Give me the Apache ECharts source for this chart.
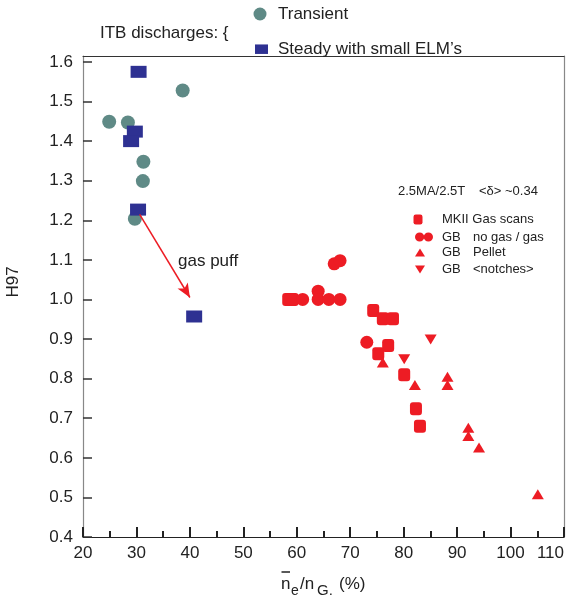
<!DOCTYPE html>
<html>
<head>
<meta charset="utf-8">
<script src="https://cdn.jsdelivr.net/npm/echarts@6/dist/echarts.min.js"></script>
<style>
  html, body { margin: 0; padding: 0; background: #fff; }
  #chart { width: 569px; height: 603px; }
</style>
</head>
<body>
<div id="chart"></div>
<script>
// ITB discharges (left cluster)
const transient = [[24.9, 1.449], [28.4, 1.447], [38.65, 1.528], [31.3, 1.348], [31.2, 1.299], [29.7, 1.204]];
const steadySmallELMs = [[30.4, 1.575], [29.7, 1.424], [29.0, 1.40], [30.3, 1.227], [40.8, 0.957]];

// 2.5MA/2.5T reference discharges (right cluster)
const mkiiGasScans = [[58.4, 1.0], [59.2, 1.0], [74.3, 0.972], [76.1, 0.951], [78.0, 0.951],
  [77.1, 0.884], [75.25, 0.863], [80.1, 0.81], [82.3, 0.724], [83.05, 0.68]];
const gbNoGasGas = [[67.0, 1.09], [68.1, 1.098], [61.1, 1.0], [64.0, 1.021], [64.0, 1.0],
  [66.0, 1.0], [68.1, 1.0], [73.1, 0.892]];
const gbPellet = [[76.1, 0.841], [82.1, 0.784], [88.2, 0.805], [88.2, 0.784], [92.1, 0.676],
  [92.1, 0.655], [94.1, 0.626], [105.1, 0.508]];
const gbNotches = [[80.1, 0.849], [85.05, 0.899]];

// gas puff transition arrow (from, to)
const gasPuffArrow = [[30.6, 1.215], [40.0, 1.005]];

// axis ranges and tick labels
const xRange = [20, 110];
const yRange = [0.4, 1.615];
const yTickLabels = ['0.4', '0.5', '0.6', '0.7', '0.8', '0.9', '1.0', '1.1', '1.2', '1.3', '1.4', '1.5', '1.6'];

const FONT = '"Liberation Sans", Arial, Helvetica, sans-serif';
const INK = '#222';
const TEAL = '#5f8a86';
const NAVY = '#2e3192';
const RED = '#ed1c24';

const chart = echarts.init(document.getElementById('chart'), null, { renderer: 'canvas' });

function yLabel(v) {
  const k = Math.round((v - 0.4) * 10);
  if (Math.abs(v - (0.4 + k / 10)) > 1e-6) return '';
  return yTickLabels[k] || '';
}

// "GB" prefix in its own fixed-width column
const gbRich = {
  a: { width: 31, fontSize: 13, color: INK, fontFamily: FONT },
  b: { fontSize: 13, color: INK, fontFamily: FONT }
};
const gbFormatter = name => '{a|GB}{b|' + name.replace(/^GB\s+/, '') + '}';

function legendEntry(name, icon, left, top, w, h, fontSize, padLeft, rich) {
  const textStyle = { color: INK, fontFamily: FONT, fontSize: fontSize, padding: [0, 0, 0, padLeft] };
  const entry = {
    orient: 'horizontal', padding: 0, selectedMode: false, symbolKeepAspect: false,
    data: [{ name: name, icon: icon }],
    left: left, top: top, itemWidth: w, itemHeight: h,
    textStyle: textStyle
  };
  if (rich) {
    textStyle.rich = gbRich;
    entry.formatter = gbFormatter;
  }
  return entry;
}

const option = {
  animation: false,
  backgroundColor: '#fff',
  textStyle: { fontFamily: FONT },
  grid: { left: 83, right: 5, top: 56, bottom: 66, containLabel: false, outerBoundsMode: 'none' },
  xAxis: [
    {
      type: 'value', position: 'bottom', min: xRange[0], max: xRange[1], interval: 10,
      axisLine: { onZero: false, lineStyle: { color: '#222', width: 1.2 } },
      axisTick: { inside: true, length: 10, lineStyle: { color: '#222', width: 2 } },
      minorTick: { show: true, splitNumber: 2, length: 6, lineStyle: { color: '#222', width: 2 } },
      axisLabel: { fontSize: 17, color: INK, margin: 8, fontFamily: FONT, alignMaxLabel: 'right' },
      splitLine: { show: false }
    },
    {
      type: 'value', position: 'top', min: xRange[0], max: xRange[1],
      axisLine: { onZero: false, lineStyle: { color: '#333', width: 1 } },
      axisTick: { show: false }, axisLabel: { show: false }, splitLine: { show: false }
    }
  ],
  yAxis: [
    {
      type: 'value', position: 'left', min: yRange[0], max: yRange[1], interval: 0.1,
      axisLine: { onZero: false, lineStyle: { color: '#888', width: 1.2 } },
      axisTick: { inside: true, length: 9, lineStyle: { color: '#333', width: 1.5 } },
      axisLabel: { fontSize: 17, color: INK, margin: 10, fontFamily: FONT, formatter: yLabel, showMaxLabel: false },
      splitLine: { show: false }
    },
    {
      type: 'value', position: 'right', min: yRange[0], max: yRange[1],
      axisLine: { onZero: false, lineStyle: { color: '#888', width: 1.2 } },
      axisTick: { show: false }, axisLabel: { show: false }, splitLine: { show: false }
    }
  ],
  legend: [
    legendEntry('Transient', 'circle', 253.5, 5.5, 13, 13, 17, 6.5),
    legendEntry('Steady with small ELM’s', 'rect', 255, 40.7, 13, 9.5, 17, 5),
    legendEntry('MKII Gas scans', 'roundRect', 413.5, 213, 9, 10, 13, 14.5),
    legendEntry('GB no gas / gas',
      'path://M0,4.5a4.5,4.5 0 1,0 9,0a4.5,4.5 0 1,0 -9,0zM8.5,4.5a4.5,4.5 0 1,0 9,0a4.5,4.5 0 1,0 -9,0z',
      415, 230.5, 18, 9, 13, 4, true),
    legendEntry('GB Pellet', 'triangle', 415, 246, 10, 8, 13, 12, true),
    legendEntry('GB <notches>', 'path://M0,0L10,0L5,8Z', 415, 263, 10, 8, 13, 12, true)
  ],
  series: [
    {
      name: 'Transient', type: 'scatter', data: transient,
      symbol: 'circle', symbolSize: 14, itemStyle: { color: TEAL, opacity: 1 }, z: 2
    },
    {
      name: 'Steady with small ELM’s', type: 'scatter', data: steadySmallELMs,
      symbol: 'rect', symbolSize: [16, 12], itemStyle: { color: NAVY, opacity: 1 }, z: 4,
      markLine: {
        silent: true, animation: false,
        symbol: ['none', 'arrow'], symbolSize: [9, 14],
        lineStyle: { color: RED, width: 1.5, type: 'solid' },
        label: { show: false },
        data: [[{ coord: gasPuffArrow[0] }, { coord: gasPuffArrow[1] }]]
      }
    },
    {
      name: 'MKII Gas scans', type: 'scatter', data: mkiiGasScans,
      symbol: 'roundRect', symbolSize: [12, 13], itemStyle: { color: RED, opacity: 1 }, z: 3
    },
    {
      name: 'GB no gas / gas', type: 'scatter', data: gbNoGasGas,
      symbol: 'circle', symbolSize: 13, itemStyle: { color: RED, opacity: 1 }, z: 3
    },
    {
      name: 'GB Pellet', type: 'scatter', data: gbPellet,
      symbol: 'triangle', symbolSize: [12, 10], itemStyle: { color: RED, opacity: 1 }, z: 3
    },
    {
      name: 'GB <notches>', type: 'scatter', data: gbNotches,
      symbol: 'triangle', symbolRotate: 180, symbolSize: [12, 10], itemStyle: { color: RED, opacity: 1 }, z: 3
    }
  ],
  graphic: [
    { type: 'text', x: 100, y: 33, style: { text: 'ITB discharges: {', fontSize: 17, fontFamily: FONT, fill: INK, verticalAlign: 'middle' } },
    { type: 'text', x: 398, y: 191, style: { text: '2.5MA/2.5T', fontSize: 13, fontFamily: FONT, fill: INK, verticalAlign: 'middle' } },
    { type: 'text', x: 479, y: 191, style: { text: '<δ> ~0.34', fontSize: 13, fontFamily: FONT, fill: INK, verticalAlign: 'middle' } },
    { type: 'text', x: 178, y: 261, style: { text: 'gas puff', fontSize: 17, fontFamily: FONT, fill: INK, verticalAlign: 'middle' } },
    { type: 'text', x: 13, y: 282, rotation: Math.PI / 2, style: { text: 'H97', fontSize: 17, fontFamily: FONT, fill: INK, align: 'center', verticalAlign: 'middle' } },
    // x-axis title: n̄e / nG. (%)
    { type: 'line', shape: { x1: 281.5, y1: 572, x2: 290, y2: 572 }, style: { stroke: INK, lineWidth: 1.5 } },
    { type: 'text', x: 281, y: 584, style: { text: 'n', fontSize: 17, fontFamily: FONT, fill: INK, verticalAlign: 'middle' } },
    { type: 'text', x: 291, y: 591, style: { text: 'e', fontSize: 14, fontFamily: FONT, fill: INK, verticalAlign: 'middle' } },
    { type: 'text', x: 300, y: 584, style: { text: '/n', fontSize: 17, fontFamily: FONT, fill: INK, verticalAlign: 'middle' } },
    { type: 'text', x: 317, y: 591, style: { text: 'G.', fontSize: 15, fontFamily: FONT, fill: INK, verticalAlign: 'middle' } },
    { type: 'text', x: 339, y: 584, style: { text: '(%)', fontSize: 17, fontFamily: FONT, fill: INK, verticalAlign: 'middle' } }
  ]
};

chart.setOption(option);
</script>
</body>
</html>
